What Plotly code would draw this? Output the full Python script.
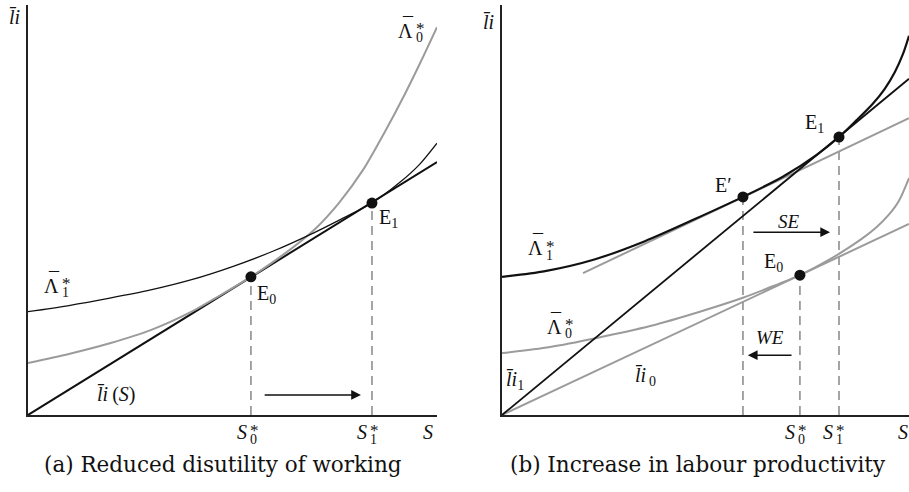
import plotly.graph_objects as go

# ---------------- data ----------------
# Panel (a): reduced disutility of working
S_a_budget = [0, 10]
li_a_budget = [0, 6.17]

S_a_L0 = [0, 1, 2, 3, 4, 4.7, 5.45, 6.2, 7.0, 7.6, 8.2, 8.7, 9.2, 9.6, 10]
L0_a = [1.27, 1.49, 1.75, 2.07, 2.52, 2.92, 3.37, 3.88, 4.52, 5.17, 5.99, 6.86, 7.80, 8.61, 9.46]

S_a_L1 = [0, 1, 2, 3, 4, 5, 6, 7, 7.7, 8.41, 9.1, 9.58, 10]
L1_a = [2.52, 2.67, 2.85, 3.05, 3.30, 3.62, 4.00, 4.45, 4.80, 5.17, 5.68, 6.12, 6.63]

E_a_S = [5.45, 8.41]          # S0*, S1*
E_a_li = [3.37, 5.17]         # E0, E1

arrow_a = dict(S_from=5.75, S_to=8.14, li=0.49)

# Panel (b): increase in labour productivity
S_b_li1 = [0, 10]
li1_b = [0, 8.2]
S_b_li0 = [0, 10]
li0_b = [0, 4.66]
S_b_comp = [1.99, 10]          # old-slope line through E'
li_b_comp = [3.46, 7.24]

S_b_L1 = [0, 1.06, 2.29, 3.51, 4.74, 5.92, 6.90, 7.74, 8.28, 8.7, 9.1, 9.4, 9.65, 9.85, 10]
L1_b = [3.37, 3.51, 3.80, 4.24, 4.78, 5.32, 5.81, 6.35, 6.78, 7.18, 7.58, 7.95, 8.36, 8.80, 9.25]

S_b_L0 = [0, 1.18, 2.33, 3.64, 4.86, 5.92, 6.5, 7.32, 8.06, 8.5, 8.87, 9.2, 9.5, 9.75, 10]
L0_b = [1.51, 1.66, 1.88, 2.17, 2.52, 2.86, 3.08, 3.41, 3.80, 4.07, 4.32, 4.58, 4.88, 5.22, 5.78]

E_b_S = [5.92, 7.32, 8.28]    # E', E0 (S0*), E1 (S1*)
E_b_li = [5.32, 3.41, 6.78]

arrow_se = dict(S_from=6.14, S_to=8.06, li=4.46)
arrow_we = dict(S_from=7.15, S_to=6.04, li=1.46)

# ---------------- styling ----------------
BLACK = "#111111"
GRAY = "#9b9b9b"
MATH = "Liberation Serif"
CAP = "DejaVu Serif"
W, H = 909, 492

fig = go.Figure()


def line(x, y, color, width, ax="", dash=None, spline=False):
    fig.add_trace(go.Scatter(
        x=x, y=y, mode="lines",
        line=dict(color=color, width=width, dash=dash,
                  shape="spline" if spline else "linear", smoothing=0.8),
        xaxis="x" + ax, yaxis="y" + ax, hoverinfo="skip", showlegend=False))


def dots(x, y, ax=""):
    fig.add_trace(go.Scatter(
        x=x, y=y, mode="markers", marker=dict(color=BLACK, size=11),
        xaxis="x" + ax, yaxis="y" + ax, hoverinfo="skip", showlegend=False,
        cliponaxis=False))


DASH = "9px,6px"

# ---- panel (a) ----
for s, v in zip(E_a_S, E_a_li):
    line([s, s], [0, v], GRAY, 1.8, dash=DASH)
line(S_a_budget, li_a_budget, BLACK, 2.0)
line(S_a_L0, L0_a, GRAY, 2.0, spline=True)
line(S_a_L1, L1_a, BLACK, 1.3, spline=True)
dots(E_a_S, E_a_li)

# ---- panel (b) ----
for s, v in zip(E_b_S, E_b_li):
    line([s, s], [0, v], GRAY, 1.8, ax="2", dash=DASH)
line(S_b_li0, li0_b, GRAY, 2.0, ax="2")
line(S_b_comp, li_b_comp, GRAY, 2.0, ax="2")
line(S_b_L0, L0_b, GRAY, 2.0, ax="2", spline=True)
line(S_b_li1, li1_b, BLACK, 1.8, ax="2")
line(S_b_L1, L1_b, BLACK, 2.2, ax="2", spline=True)
dots(E_b_S, E_b_li, ax="2")

# ---------------- axes ----------------
y_dom = [1 - 415 / H, 1 - 5 / H]
axis_style = dict(showline=True, linecolor="#222222", linewidth=1.6, showgrid=False,
                  zeroline=False, showticklabels=False, ticks="", range=[0, 10],
                  fixedrange=True)
fig.update_layout(
    width=W, height=H, margin=dict(l=0, r=0, t=0, b=0),
    paper_bgcolor="white", plot_bgcolor="white", showlegend=False,
    xaxis=dict(domain=[28 / W, 437 / W], anchor="y", **axis_style),
    yaxis=dict(domain=y_dom, anchor="x", **axis_style),
    xaxis2=dict(domain=[502 / W, 1.0], anchor="y2", **axis_style),
    yaxis2=dict(domain=y_dom, anchor="x2", **axis_style),
)

# ---------------- labels ----------------
anns = []
BAR = "\u0304"
LI = "<i>l" + BAR + "i</i>"
S_ROW = 1 - 432 / H     # baseline row of the S labels under the axes


def font(size=20, family=MATH):
    return dict(family=family, size=size, color=BLACK)


def text(ax, x, y, s, size=20, xanchor="center", xref=None, yref=None):
    anns.append(dict(x=x, y=y, xref=xref or "x" + ax, yref=yref or "y" + ax, text=s,
                     xanchor=xanchor, yanchor="middle", showarrow=False,
                     font=font(size)))


def stacked(ax, x, y, base, sub, sup, bar=False, yref=None):
    # base glyph ends at x; sub- and superscript stacked to its right
    yr = yref or "y" + ax
    common = dict(x=x, y=y, xref="x" + ax, yref=yr, showarrow=False, yanchor="middle")
    anns.append(dict(text=base, xanchor="right", font=font(20), **common))
    if bar:
        anns.append(dict(text="\u00af", xanchor="center", xshift=-7.5, yshift=6,
                         font=font(20), **common))
    anns.append(dict(text=sub, xanchor="left", xshift=-1, yshift=-7,
                     font=font(14), **common))
    anns.append(dict(text=sup, xanchor="left", xshift=-1, yshift=2,
                     font=font(17), **common))


def arrow(ax, a):
    anns.append(dict(x=a["S_to"], y=a["li"], ax=a["S_from"], ay=a["li"],
                     xref="x" + ax, yref="y" + ax, axref="x" + ax, ayref="y" + ax,
                     text="", showarrow=True, arrowhead=2, arrowsize=1.3,
                     arrowwidth=1.5, arrowcolor=BLACK, standoff=0, startstandoff=0))


# panel (a)
text("", 15 / W, 9.71, LI, xref="paper")
stacked("", 9.47, 9.37, "\u039b", "0", "*", bar=True)
stacked("", 0.81, 3.15, "\u039b", "1", "*", bar=True)
text("", 5.55, 2.93, "E<sub>0</sub>", xanchor="left")
text("", 8.53, 4.80, "E<sub>1</sub>", xanchor="left")
text("", 1.64, 0.49, LI + "\u2009(<i>S</i>)", xanchor="left")
stacked("", 5.40, S_ROW, "<i>S</i>", "0", "*", yref="paper")
stacked("", 8.34, S_ROW, "<i>S</i>", "1", "*", yref="paper")
text("", 9.78, S_ROW, "<i>S</i>", yref="paper")
arrow("", arrow_a)

# panel (b)
text("2", 488 / W, 9.59, LI, xref="paper")
stacked("2", 1.06, 4.07, "\u039b", "1", "*", bar=True)
stacked("2", 1.52, 2.15, "\u039b", "0", "*", bar=True)
text("2", 7.40, 7.12, "E<sub>1</sub>", xanchor="left")
text("2", 5.18, 5.61, "E\u2032", xanchor="left")
text("2", 6.39, 3.71, "E<sub>0</sub>", xanchor="left")
text("2", 0.05, 0.85, LI + "<sub>1</sub>", xanchor="left")
text("2", 3.22, 0.93, LI + "<sub>\u20090</sub>", xanchor="left")
text("2", 7.05, 4.73, "<i>SE</i>", size=19)
text("2", 6.58, 1.88, "<i>WE</i>", size=19)
stacked("2", 7.25, S_ROW, "<i>S</i>", "0", "*", yref="paper")
stacked("2", 8.18, S_ROW, "<i>S</i>", "1", "*", yref="paper")
text("2", 9.85, S_ROW, "<i>S</i>", yref="paper")
arrow("2", arrow_se)
arrow("2", arrow_we)

# captions
for cx, cap in [(223, "(a) Reduced disutility of working"),
                (698, "(b) Increase in labour productivity")]:
    anns.append(dict(x=cx / W, y=1 - 464 / H, xref="paper", yref="paper", text=cap,
                     xanchor="center", yanchor="middle", showarrow=False,
                     font=dict(family=CAP, size=21.5, color=BLACK)))

fig.update_layout(annotations=anns)
fig.write_html("out.html")
